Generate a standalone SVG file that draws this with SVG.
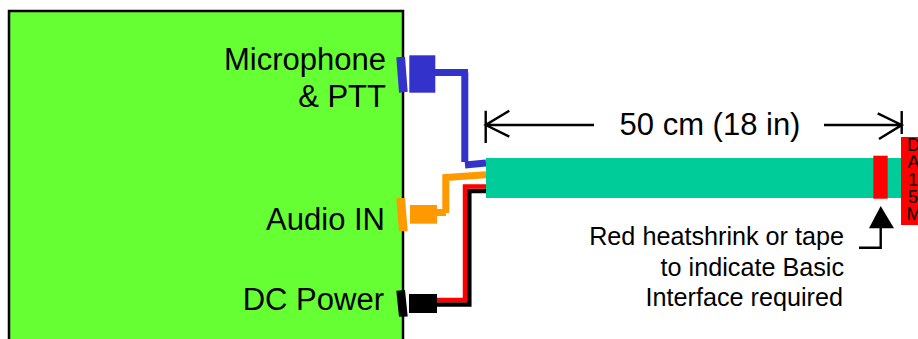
<svg xmlns="http://www.w3.org/2000/svg" width="918" height="339" viewBox="0 0 918 339">
<style>
text{font-family:"Liberation Sans",Arial,sans-serif;fill:#000}
.l{font-size:31px;text-anchor:end}
.n{font-size:25.2px;text-anchor:end}
.w{fill:none;stroke-width:7;stroke-linejoin:miter}
.t{fill:none;stroke-width:4.5}
.d{fill:none;stroke:#000;stroke-width:2.4}
</style>
<g id="box"><rect x="9" y="11" width="394" height="340" fill="#66ff33" stroke="#000" stroke-width="2.5"/>
<text class="l" x="386" y="70">Microphone</text><text class="l" x="386" y="107">&amp; PTT</text><text class="l" x="385" y="229.5">Audio IN</text><text class="l" x="384" y="310">DC Power</text></g>
<g id="connectors">
<path class="w" stroke="#3333cc" d="M435 72.5H468M464.8 72.5V162M465 165L486 163"/>
<path class="w" stroke="#ff9900" d="M437 212.5H446M445.8 213V177.5L486 174.7"/>
<path class="t" stroke="#000" d="M437 304.5H469.3V191H486"/>
<path class="t" stroke="#ff0000" d="M437 300H465V186.5H486"/>
</g>
<g id="microphone-plug" fill="#3333cc"><polygon points="396.3,57.3 405,56.7 407.7,91.7 399,92.7"/><rect x="409.3" y="55.3" width="26" height="37.4"/></g>
<g id="audio-plug" fill="#ff9900"><polygon points="396.3,198.3 405,198 407.7,231.3 399,231.3"/><rect x="410" y="205" width="27" height="18.7"/></g>
<g id="power-plug" fill="#000"><polygon points="396.3,290.7 405,290 407.7,316.5 399,316.7"/><rect x="409" y="294" width="28" height="19"/></g>
<g id="cable"><rect x="486" y="158" width="416" height="40" fill="#00cc99"/><rect x="873.3" y="155.7" width="14.4" height="43" fill="#ff0000"/></g>
<g id="da15m"><rect x="901" y="137" width="17" height="88" fill="#ff0000"/>
<text font-size="18" text-anchor="middle"><tspan x="913.5" y="151">D</tspan><tspan x="913.5" y="168">A</tspan><tspan x="913" y="186">1</tspan><tspan x="913" y="203">5</tspan><tspan x="914" y="220">M</tspan></text></g>
<g id="dimension">
<path class="d" d="M485.7 110.7V143M594 125H485.7M509.3 110.7L485.7 125L509.3 136.7M901.7 111V134M824 125H901.7M877.7 113.3L901.7 125L879 139"/>
<text x="710" y="135" font-size="31" text-anchor="middle">50 cm (18 in)</text></g>
<g id="note">
<polygon points="880.7,206 869,228.3 894,228.3" fill="#000"/>
<path class="d" d="M880.7 228V247.7H859"/>
<text class="n" x="844" y="245">Red heatshrink or tape</text>
<text class="n" x="844" y="276">to indicate Basic</text>
<text class="n" x="843" y="306">Interface required</text></g>
</svg>
